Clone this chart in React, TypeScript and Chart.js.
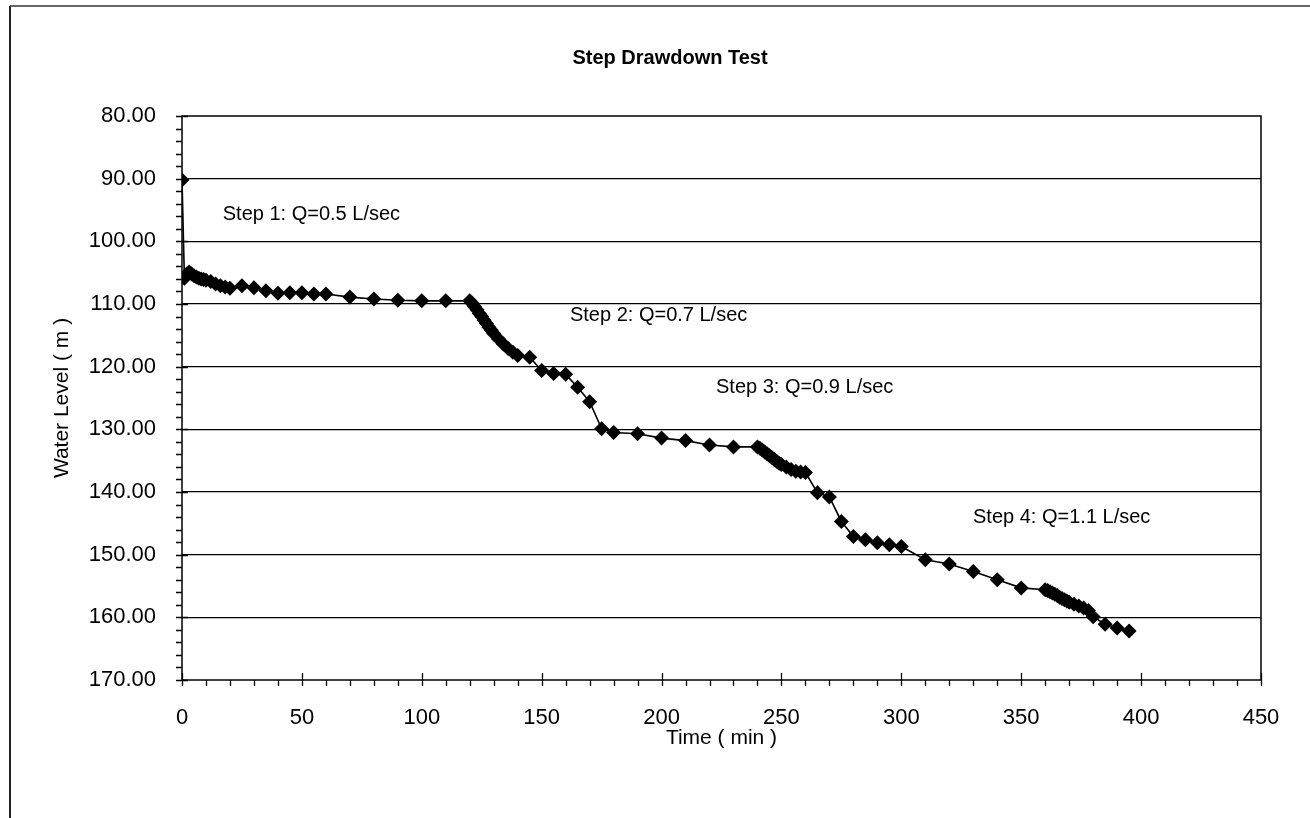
import React, { useEffect, useRef } from "react";
import { Chart, registerables } from "chart.js";

Chart.register(...registerables);

// ---- data ----
const timeMin: number[] = [
  0, 1, 2, 3, 4, 5, 6, 7, 8, 9, 10, 12, 14, 16, 18, 20, 25, 30, 35, 40, 45, 50, 55, 60, 70, 80, 90, 100, 110, 120,
  121, 122, 123, 124, 125, 126, 127, 128, 129, 130, 132, 134, 136, 138, 140, 145, 150, 155, 160, 165, 170, 175, 180, 190, 200, 210, 220, 230, 240,
  241, 242, 243, 244, 245, 246, 247, 248, 249, 250, 252, 254, 256, 258, 260, 265, 270, 275, 280, 285, 290, 295, 300, 310, 320, 330, 340, 350, 360,
  361, 362, 363, 364, 365, 366, 367, 368, 369, 370, 372, 374, 376, 378, 380, 385, 390, 395,
];
const waterLevel: number[] = [
  90.2, 105.9, 105.2, 104.9, 105.2, 105.5, 105.7, 105.9, 106.0, 106.1, 106.2, 106.4, 106.8, 107.1, 107.3, 107.5, 107.1, 107.4, 107.9, 108.3, 108.2, 108.2, 108.4, 108.4, 108.9, 109.2, 109.4, 109.5, 109.5, 109.5,
  109.9, 110.4, 110.9, 111.5, 112.0, 112.6, 113.1, 113.7, 114.2, 114.7, 115.6, 116.4, 117.1, 117.7, 118.2, 118.5, 120.6, 121.1, 121.2, 123.3, 125.6, 129.9, 130.5, 130.7, 131.4, 131.8, 132.5, 132.8, 132.8,
  133.0, 133.3, 133.6, 133.9, 134.2, 134.5, 134.8, 135.1, 135.4, 135.6, 136.0, 136.4, 136.7, 136.8, 136.9, 140.1, 140.8, 144.7, 147.1, 147.6, 148.1, 148.4, 148.7, 150.8, 151.5, 152.7, 154.0, 155.3, 155.6,
  155.7, 155.9, 156.1, 156.3, 156.5, 156.8, 157.0, 157.2, 157.4, 157.6, 157.9, 158.2, 158.5, 158.9, 159.9, 161.1, 161.7, 162.2,
];
const stepLabels: string[] = [
  "Step 1: Q=0.5 L/sec",
  "Step 2: Q=0.7 L/sec",
  "Step 3: Q=0.9 L/sec",
  "Step 4: Q=1.1 L/sec",
];
const stepLabelTime: number[] = [17, 161.8, 222.7, 329.9];
const stepLabelLevel: number[] = [95.7, 111.9, 123.4, 144.1];

const chartTitle = "Step Drawdown Test";
const xTitle = "Time ( min )";
const yTitle = "Water Level ( m )";

const FONT = "'Liberation Sans', Arial, sans-serif";

const framePlugin = {
  id: "frame",
  beforeDraw(chart: any) {
    const ctx = chart.ctx;
    ctx.save();
    ctx.fillStyle = "#ffffff";
    ctx.fillRect(0, 0, chart.width, chart.height);
    ctx.strokeStyle = "#666666";
    ctx.lineWidth = 2;
    ctx.beginPath();
    ctx.moveTo(10, 6);
    ctx.lineTo(chart.width, 6);
    ctx.stroke();
    ctx.strokeStyle = "#222222";
    ctx.beginPath();
    ctx.moveTo(10, 6);
    ctx.lineTo(10, chart.height);
    ctx.stroke();
    // chart title
    ctx.fillStyle = "#000000";
    ctx.font = `bold 20px ${FONT}`;
    ctx.textAlign = "center";
    ctx.textBaseline = "middle";
    ctx.fillText(chartTitle, 670, 58);
    ctx.restore();
  },
  afterDraw(chart: any) {
    const ctx = chart.ctx;
    const { left, right, top, bottom } = chart.chartArea;
    const xs = chart.scales.x;
    const ys = chart.scales.y;
    ctx.save();
    ctx.strokeStyle = "#000000";
    ctx.lineWidth = 1.5;
    ctx.strokeRect(left, top, right - left, bottom - top);
    ctx.lineWidth = 1.3;
    ctx.beginPath();
    for (let v = 80; v <= 170; v += 2) {
      const y = Math.round(ys.getPixelForValue(v)) + 0.5;
      const major = v % 10 === 0;
      ctx.moveTo(left - 6, y);
      ctx.lineTo(major ? left + 6 : left, y);
    }
    for (let v = 0; v <= 450; v += 10) {
      const x = Math.round(xs.getPixelForValue(v)) + 0.5;
      const major = v % 50 === 0;
      ctx.moveTo(x, major ? bottom - 7 : bottom);
      ctx.lineTo(x, bottom + 6);
    }
    ctx.stroke();
    ctx.restore();
  },
};

const labelPlugin = {
  id: "stepLabels",
  afterDatasetsDraw(chart: any) {
    const ctx = chart.ctx;
    const xs = chart.scales.x;
    const ys = chart.scales.y;
    ctx.save();
    ctx.font = `20px ${FONT}`;
    ctx.textAlign = "left";
    ctx.textBaseline = "middle";
    stepLabels.forEach((txt, i) => {
      const x = xs.getPixelForValue(stepLabelTime[i]);
      const y = ys.getPixelForValue(stepLabelLevel[i]);
      const w = ctx.measureText(txt).width;
      ctx.fillStyle = "#ffffff";
      ctx.fillRect(x - 3, y - 11, w + 6, 22);
      ctx.fillStyle = "#000000";
      ctx.fillText(txt, x, y);
    });
    ctx.restore();
  },
};

export default function App() {
  const canvasRef = useRef<HTMLCanvasElement | null>(null);

  useEffect(() => {
    if (!canvasRef.current) return;
    const points = timeMin.map((t, i) => ({ x: t, y: waterLevel[i] }));
    const chart = new Chart(canvasRef.current, {
      type: "scatter",
      data: {
        datasets: [
          {
            label: "Water Level",
            data: points,
            showLine: true,
            borderColor: "#000000",
            backgroundColor: "#000000",
            borderWidth: 1.6,
            pointStyle: "rectRot",
            pointRadius: 7.5,
            pointHoverRadius: 7.5,
            pointBorderWidth: 0,
          },
        ],
      },
      options: {
        responsive: true,
        maintainAspectRatio: false,
        animation: false,
        layout: { padding: { top: 116, right: 49, bottom: 0, left: 0 } },
        plugins: {
          legend: { display: false },
          tooltip: { enabled: false },
          title: { display: false },
        },
        scales: {
          x: {
            type: "linear",
            min: 0,
            max: 450,
            afterFit: (s: any) => {
              s.height = 138;
            },
            ticks: {
              stepSize: 50,
              color: "#000000",
              font: { family: FONT, size: 22 },
              padding: 25,
              maxRotation: 0,
              callback: (v: any) => String(v),
            },
            grid: { display: false, drawTicks: false },
            border: { display: false },
            title: {
              display: true,
              text: xTitle,
              color: "#000000",
              font: { family: FONT, size: 21 },
              padding: { top: 0, bottom: 67 },
            },
          },
          y: {
            type: "linear",
            reverse: true,
            min: 80,
            max: 170,
            afterFit: (s: any) => {
              s.width = 182;
            },
            ticks: {
              stepSize: 10,
              color: "#000000",
              font: { family: FONT, size: 22 },
              padding: 26,
              callback: (v: any) => Number(v).toFixed(2),
            },
            grid: {
              drawTicks: false,
              color: (c: any) => (c.tick && c.tick.value > 80 && c.tick.value < 170 ? "#000000" : "rgba(0,0,0,0)"),
              lineWidth: 1.2,
            },
            border: { display: false },
            title: {
              display: true,
              text: yTitle,
              color: "#000000",
              font: { family: FONT, size: 21 },
              padding: { top: 50, bottom: 0 },
            },
          },
        },
      },
      plugins: [framePlugin, labelPlugin],
    });
    return () => chart.destroy();
  }, []);

  return (
    <div style={{ position: "absolute", left: 0, top: 0, width: 1310, height: 818, background: "#fff" }}>
      <canvas ref={canvasRef} />
    </div>
  );
}
